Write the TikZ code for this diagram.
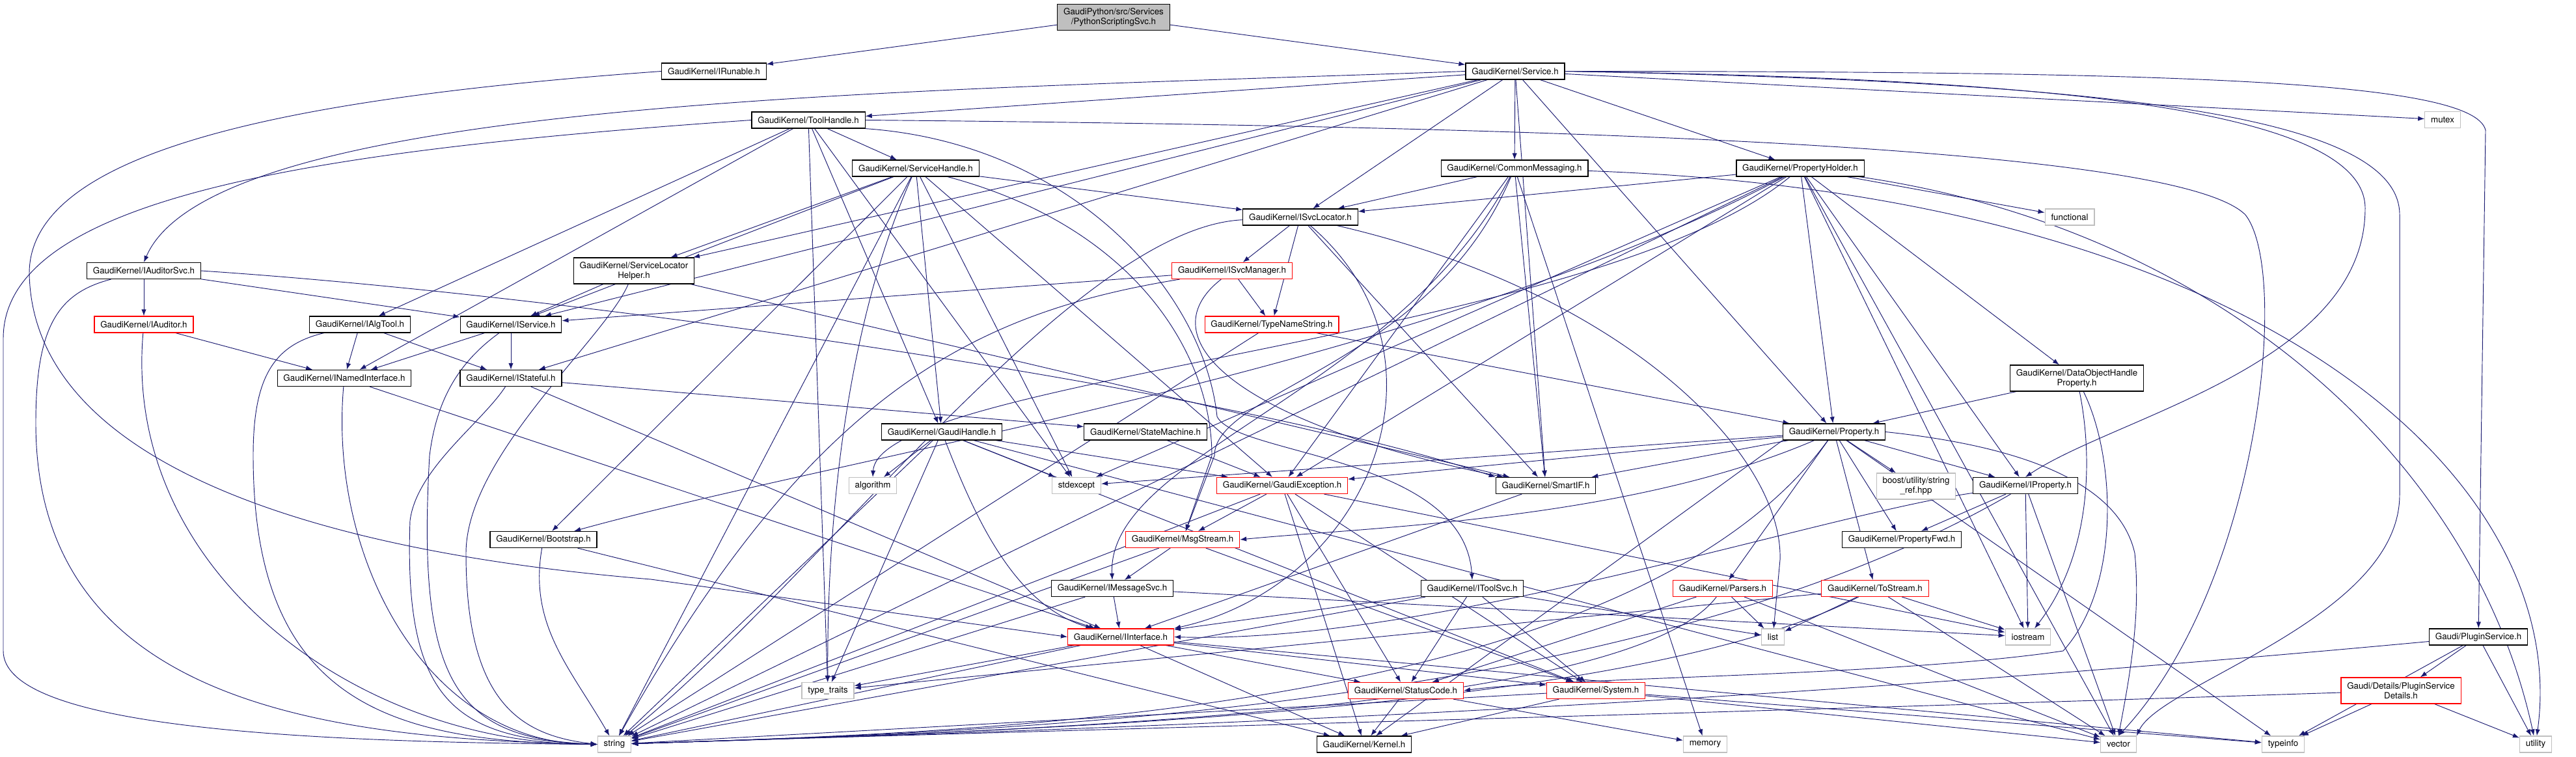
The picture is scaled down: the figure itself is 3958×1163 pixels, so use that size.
\documentclass[tikz,border=0pt]{standalone}
\usepackage{fontspec}
\setmainfont{TeX Gyre Heros}
\usetikzlibrary{arrows.meta}

\definecolor{edgeblue}{HTML}{191970}
\definecolor{sysgray}{HTML}{BFBFBF}

\pgfdeclarelayer{edges}
\pgfsetlayers{edges,main}

\tikzset{
  hdr/.style={draw=black, fill=white, line width=0.9pt, minimum height=18.75pt,
    inner xsep=7pt, inner ysep=1pt, align=center, font=\fontsize{10}{11.25}\selectfont},
  hdrtwo/.style={hdr, minimum height=30pt},
  syshdr/.style={hdr, draw=sysgray},
  cuthdr/.style={hdr, draw=red},
  inc/.style={draw=edgeblue, line width=0.7pt, -{Latex[length=7.5pt,width=5.5pt]}},
  strbus/.style={to path={.. controls (2500,-1100) and (1500,-1125) .. (\tikztotarget)}}
}

\begin{document}
\begin{tikzpicture}[x=0.75pt,y=0.75pt]
\useasboundingbox (0,0) rectangle (3958,-1163);

% Define nodes
\node[hdrtwo,fill=sysgray] (root) at (1711,-26.5) {GaudiPython/src/Services\\/PythonScriptingSvc.h};
\node[hdr] (irun) at (1097,-109.5) {GaudiKernel/IRunable.h};
\node[hdr] (svc) at (2328,-109.5) {GaudiKernel/Service.h};
\node[hdr] (toolh) at (1242,-184.5) {GaudiKernel/ToolHandle.h};
\node[syshdr] (mutex) at (3753,-184) {mutex};
\node[hdr] (svch) at (1407,-258.5) {GaudiKernel/ServiceHandle.h};
\node[hdr] (cmsg) at (2327,-258.5) {GaudiKernel/CommonMessaging.h};
\node[hdr] (propholder) at (2766,-258.5) {GaudiKernel/PropertyHolder.h};
\node[hdr] (isvcloc) at (1998,-333.5) {GaudiKernel/ISvcLocator.h};
\node[syshdr] (functional) at (3180,-333.5) {functional};
\node[hdr] (iaudsvc) at (221,-416) {GaudiKernel/IAuditorSvc.h};
\node[hdrtwo] (slhelper) at (974,-416) {GaudiKernel/ServiceLocator\\Helper.h};
\node[cuthdr] (isvcmgr) at (1893,-416) {GaudiKernel/ISvcManager.h};
\node[cuthdr] (iaud) at (221,-498.5) {GaudiKernel/IAuditor.h};
\node[hdr] (ialgtool) at (553,-498.5) {GaudiKernel/IAlgTool.h};
\node[hdr] (iservice) at (785,-498.5) {GaudiKernel/IService.h};
\node[cuthdr] (typename) at (1954,-498.5) {GaudiKernel/TypeNameString.h};
\node[hdr] (inamed) at (529,-581) {GaudiKernel/INamedInterface.h};
\node[hdr] (istateful) at (785,-581) {GaudiKernel/IStateful.h};
\node[hdrtwo] (dohprop) at (3191,-581) {GaudiKernel/DataObjectHandle\\Property.h};
\node[hdr] (gaudih) at (1447,-663.5) {GaudiKernel/GaudiHandle.h};
\node[hdr] (statem) at (1760,-663.5) {GaudiKernel/StateMachine.h};
\node[hdr] (property) at (2818,-663.5) {GaudiKernel/Property.h};
\node[syshdr] (algorithm) at (1341,-746) {algorithm};
\node[syshdr] (stdexcept) at (1654,-746) {stdexcept};
\node[cuthdr] (gexc) at (1970,-746) {GaudiKernel/GaudiException.h};
\node[hdr] (smartif) at (2375,-746) {GaudiKernel/SmartIF.h};
\node[syshdr,minimum height=30pt] (strref) at (2944,-747) {boost/utility/string\\\_ref.hpp};
\node[hdr] (iprop) at (3112,-746) {GaudiKernel/IProperty.h};
\node[hdr] (bootstrap) at (835,-829) {GaudiKernel/Bootstrap.h};
\node[cuthdr] (msgstream) at (1817,-829) {GaudiKernel/MsgStream.h};
\node[hdr] (propfwd) at (2922,-829) {GaudiKernel/PropertyFwd.h};
\node[hdr] (imsgsvc) at (1709,-904) {GaudiKernel/IMessageSvc.h};
\node[hdr] (itoolsvc) at (2262,-904) {GaudiKernel/IToolSvc.h};
\node[cuthdr] (parsers) at (2647,-904) {GaudiKernel/Parsers.h};
\node[cuthdr] (tostream) at (2881,-904) {GaudiKernel/ToStream.h};
\node[cuthdr] (iinterface) at (1722,-978.5) {GaudiKernel/IInterface.h};
\node[syshdr] (list) at (2724,-978.5) {list};
\node[syshdr] (iostream) at (3116,-978.5) {iostream};
\node[hdr] (pluginsvc) at (3808,-978.5) {Gaudi/PluginService.h};
\node[syshdr] (typetraits) at (1272,-1061) {type\_traits};
\node[cuthdr] (statuscode) at (2160,-1061) {GaudiKernel/StatusCode.h};
\node[cuthdr] (system) at (2452,-1061) {GaudiKernel/System.h};
\node[cuthdr,minimum height=30pt] (plugindet) at (3689,-1061) {Gaudi/Details/PluginService\\Details.h};
\node[syshdr] (string) at (944,-1143.5) {string};
\node[hdr] (kernel) at (2096,-1143.5) {GaudiKernel/Kernel.h};
\node[syshdr] (memory) at (2620,-1143.5) {memory};
\node[syshdr] (vector) at (3255,-1143.5) {vector};
\node[syshdr] (typeinfo) at (3508,-1143.5) {typeinfo};
\node[syshdr] (utility) at (3896,-1143.5) {utility};

\begin{pgfonlayer}{edges}
% PythonScriptingSvc.h and IRunable.h
\foreach \t in {irun,svc} \draw[inc] (root) -- (\t);
\draw[inc] (irun.west) .. controls (450,-150) and (45,-230) .. (45,-420)
  .. controls (50,-700) and (450,-845) .. (1000,-890) -- (iinterface.west);

% Service.h
\foreach \t in {toolh,slhelper,iservice,istateful,isvcloc,cmsg,smartif,propholder,property,mutex}
  \draw[inc] (svc) -- (\t);
\draw[inc] (svc.west) .. controls (1400,-140) and (330,-150) .. (iaudsvc.north);
\draw[inc] (svc.east) .. controls (3100,-120) and (3634,-160) .. (3634,-320)
  .. controls (3634,-560) and (3250,-640) .. (iprop.north);
\draw[inc] (svc.east) .. controls (3200,-125) and (3687,-170) .. (3687,-330) -- (3687,-760)
  .. controls (3687,-950) and (3320,-1050) .. (vector.north east);
\draw[inc] (svc.east) .. controls (3300,-110) and (3800,-120) .. (3819,-200) -- (pluginsvc);

% ToolHandle.h and ServiceHandle.h
\foreach \t in {svch,gaudih,ialgtool,inamed,typetraits,stdexcept} \draw[inc] (toolh) -- (\t);
\draw[inc] (toolh.south east) .. controls (1650,-220) and (1850,-450) .. (1870,-640)
  .. controls (1900,-700) and (2250,-700) .. (itoolsvc.north);
\draw[inc] (toolh.east) .. controls (2500,-195) and (3350,-230) .. (3450,-330)
  .. controls (3520,-420) and (3470,-900) .. (vector.north);
\draw[inc] (toolh.west) .. controls (500,-230) and (5,-300) .. (5,-520) -- (5,-1000)
  .. controls (5,-1110) and (400,-1140) .. (string.west);
\foreach \t in {gaudih,iservice,isvcloc,slhelper,bootstrap,gexc,stdexcept,string}
  \draw[inc] (svch) -- (\t);
\draw[inc] (svch) .. controls (1300,-500) and (1270,-800) .. (typetraits);
\draw[inc] (svch) .. controls (1750,-350) and (1862,-550) .. (1862,-700) -- (msgstream);

% CommonMessaging.h and PropertyHolder.h
\foreach \t in {isvcloc,gexc,smartif,memory} \draw[inc] (cmsg) -- (\t);
\draw[inc] (cmsg) .. controls (3500,-300) and (3950,-750) .. (utility);
\draw[inc] (cmsg) .. controls (2150,-600) and (1700,-700) .. (imsgsvc.north);
\draw[inc] (cmsg) .. controls (2200,-560) and (1866,-600) .. (1866,-700) -- (msgstream);
\foreach \t in {isvcloc,functional,iostream,stdexcept,vector,dohprop,gexc,iprop,property,string}
  \draw[inc] (propholder) -- (\t);
\draw[inc] (propholder) .. controls (3400,-350) and (3800,-700) .. (utility);
\draw[inc] (propholder) .. controls (2450,-520) and (1350,-580) .. (algorithm.north);
\draw[inc] (propholder) .. controls (2200,-560) and (1300,-700) .. (bootstrap);

% ISvcLocator.h, ISvcManager.h, TypeNameString.h
\foreach \t in {isvcmgr,typename,smartif} \draw[inc] (isvcloc) -- (\t);
\draw[inc] (isvcloc) .. controls (2250,-550) and (2100,-900) .. (iinterface.north east);
\draw[inc] (isvcloc) .. controls (2500,-450) and (2740,-700) .. (2735,-860) -- (list);
\draw[inc] (isvcloc) .. controls (1650,-350) and (1250,-900) .. (string);
\foreach \t in {iservice,typename} \draw[inc] (isvcmgr) -- (\t);
\draw[inc] (isvcmgr) .. controls (1760,-520) and (1900,-650) .. (smartif);
\draw[inc] (isvcmgr) .. controls (1500,-480) and (1250,-600) .. (string);
\foreach \t in {property,string} \draw[inc] (typename) -- (\t);

% interfaces on the left
\foreach \t in {iaud,iservice} \draw[inc] (iaudsvc) -- (\t);
\draw[inc] (iaudsvc.east) .. controls (900,-455) and (1900,-600) .. (smartif.north west);
\draw[inc] (iaudsvc) .. controls (90,-450) and (55,-500) .. (55,-650)
  .. controls (55,-1080) and (500,-1135) .. (string.west);
\draw[inc] (iaud) -- (inamed);
\draw[inc] (iaud) to[out=-95,in=180] (string);
\foreach \t in {inamed,istateful} \draw[inc] (ialgtool) -- (\t);
\draw[inc] (ialgtool) .. controls (420,-530) and (389,-580) .. (389,-700)
  .. controls (389,-1080) and (600,-1140) .. (string.west);
\foreach \t in {inamed,istateful} \draw[inc] (iservice) -- (\t);
\draw[inc] (iservice) .. controls (700,-560) and (670,-620) .. (660,-700)
  .. controls (640,-1050) and (700,-1135) .. (string.west);
\draw[inc] (inamed) -- (iinterface);
\draw[inc] (inamed) to[out=-95,in=180] (string);
\foreach \t in {statem,iinterface} \draw[inc] (istateful) -- (\t);
\draw[inc] (istateful) .. controls (740,-650) and (640,-720) .. (630,-800)
  .. controls (620,-1080) and (700,-1135) .. (string.west);
\foreach \t in {iservice,smartif} \draw[inc] (slhelper) -- (\t);
\draw[inc] (slhelper) .. controls (930,-520) and (716,-700) .. (716,-850)
  .. controls (716,-1080) and (800,-1130) .. (string.west);
\draw[inc] (bootstrap) to[out=-100,in=120] (string);
\draw[inc] (bootstrap) -- (kernel);

% GaudiHandle.h and friends
\foreach \t in {algorithm,stdexcept,gexc,string,typetraits,system,vector} \draw[inc] (gaudih) -- (\t);
\draw[inc] (gaudih) .. controls (1500,-800) and (1560,-930) .. (iinterface);
\draw[inc] (statem) -- (gexc);
\foreach \t in {msgstream,statuscode,system,kernel,string,iostream} \draw[inc] (gexc) -- (\t);
\draw[inc] (smartif) -- (iinterface);

% Property.h
\foreach \t in {smartif,gexc,parsers,tostream,strref,iprop,propfwd,typeinfo,stdexcept}
  \draw[inc] (property) -- (\t);
\draw[inc] (property.south west) -- (kernel);
\draw[inc] (property) .. controls (2500,-800) and (2100,-810) .. (msgstream.east);
\draw[inc] (property.east) .. controls (3150,-690) and (3260,-760) .. (3280,-850)
  .. controls (3290,-950) and (3270,-1050) .. (vector.north);
\draw[inc] (property) to[strbus] (string);
\draw[inc] (dohprop) -- (property);
\draw[inc] (dohprop) .. controls (3215,-700) and (3215,-850) .. (iostream);
\draw[inc] (dohprop) .. controls (3250,-700) and (3260,-900) .. (3170,-1000)
  .. controls (2900,-1040) and (2400,-1040) .. (statuscode.east);
\foreach \t in {propfwd,iostream,vector} \draw[inc] (iprop) -- (\t);
\draw[inc] (iprop) .. controls (2800,-790) and (2200,-990) .. (iinterface.east);
\draw[inc] (iprop) to[strbus] (string);

% messaging and lower levels
\foreach \t in {imsgsvc,string,system} \draw[inc] (msgstream) -- (\t);
\foreach \t in {iinterface,string,iostream} \draw[inc] (imsgsvc) -- (\t);
\foreach \t in {typetraits,kernel,statuscode,system,string,typeinfo} \draw[inc] (iinterface) -- (\t);
\foreach \t in {iinterface,string,system,list,statuscode} \draw[inc] (itoolsvc) -- (\t);
\foreach \t in {statuscode,list,vector} \draw[inc] (parsers) -- (\t);
\draw[inc] (parsers) to[strbus] (string);
\foreach \t in {list,iostream,vector,typetraits} \draw[inc] (tostream) -- (\t);
\draw[inc] (tostream) to[strbus] (string);
\foreach \t in {kernel,memory} \draw[inc] (statuscode) -- (\t);
\foreach \t in {kernel,typeinfo,vector,string} \draw[inc] (system) -- (\t);
\foreach \t in {plugindet,typeinfo,utility} \draw[inc] (pluginsvc) -- (\t);
\draw[inc] (pluginsvc) to[strbus] (string);
\foreach \t in {typeinfo,utility} \draw[inc] (plugindet) -- (\t);
\draw[inc] (plugindet) to[strbus] (string);
\end{pgfonlayer}
\end{tikzpicture}
\end{document}
